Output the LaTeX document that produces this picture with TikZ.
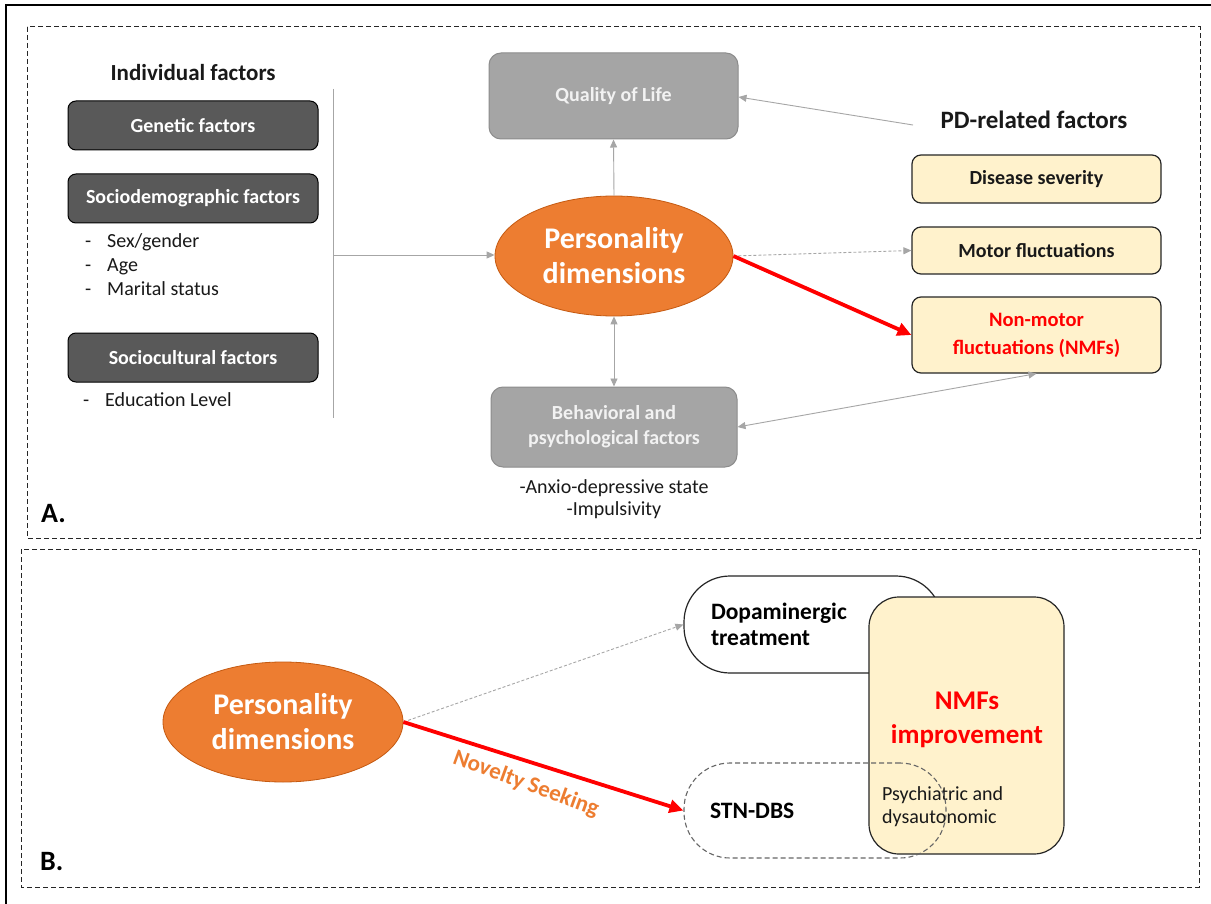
\documentclass[tikz,border=0pt]{standalone}
\usepackage{fontspec}
\setmainfont{Carlito}
\usetikzlibrary{shapes.geometric,arrows.meta}
\definecolor{darkbox}{HTML}{595959}
\definecolor{graybox}{HTML}{A5A5A5}
\definecolor{grayedge}{HTML}{8C8C8C}
\definecolor{lighttext}{HTML}{F2F2F2}
\definecolor{orfill}{HTML}{ED7D31}
\definecolor{oredge}{HTML}{C55A11}
\definecolor{yelfill}{HTML}{FFF2CC}
\definecolor{arrgray}{HTML}{A6A6A6}
\definecolor{redc}{HTML}{FF0000}
\begin{document}
\begin{tikzpicture}[x=1pt,y=-1pt,
  darkfac/.style={draw=black,line width=1pt,fill=darkbox,rounded corners=8pt,minimum width=250pt,minimum height=49pt,text=white,font=\fontsize{20pt}{24pt}\selectfont\bfseries,inner sep=0pt},
  grayfac/.style={draw=grayedge,line width=1pt,fill=graybox,rounded corners=12pt,text=lighttext,font=\fontsize{20pt}{25pt}\selectfont\bfseries,align=center,inner sep=0pt},
  pdfac/.style={draw=black!85,line width=1.2pt,fill=yelfill,rounded corners=9pt,minimum width=249pt,text=black!90,font=\fontsize{20pt}{24pt}\selectfont\bfseries,align=center,inner sep=0pt},
  pers/.style={ellipse,draw=oredge,line width=0.8pt,fill=orfill,text=white,font=\fontsize{30pt}{35pt}\selectfont\bfseries,align=center,inner sep=0pt},
  plain/.style={font=\fontsize{20pt}{24pt}\selectfont,text=black!90,inner sep=0pt},
  garrow/.style={draw=arrgray,line width=0.9pt,-{Triangle[width=7pt,length=8pt]}},
  gdarrow/.style={draw=arrgray,line width=0.9pt,{Triangle[width=7pt,length=8pt]}-{Triangle[width=7pt,length=8pt]}},
  rarrow/.style={draw=redc,line width=3.8pt,-{Triangle[width=13pt,length=14pt]}},
  panel/.style={draw=black!85,line width=1pt,dash pattern=on 5pt off 3pt},
  lab/.style={font=\fontsize{28pt}{30pt}\selectfont\bfseries,inner sep=0pt,anchor=west}
]
\useasboundingbox (0,0) rectangle (1211,904);
\fill[white] (0,0) rectangle (1211,904);
\draw[black,line width=1.6pt] (6,904) -- (6,5) -- (1211,5);

% Panels
\draw[panel] (27,27) rectangle (1200,538);
\draw[panel] (21,549) rectangle (1199,887);
\node[lab] (labA) at (41,514) {A.};
\node[lab] (labB) at (40,862) {B.};

% Individual factors
\node[font=\fontsize{23pt}{26pt}\selectfont\bfseries,text=black!90,inner sep=0pt] (indh) at (193,73) {Individual factors};
\node[darkfac] (gen) at (193,125.5) {Genetic factors};
\node[darkfac] (soc) at (193,198.5) {Sociodemographic factors};
\node[plain,anchor=base west] (sex) at (85,247.5) {\makebox[22pt][l]{-}Sex/gender};
\node[plain,anchor=base west] (age) at (85,271.5) {\makebox[22pt][l]{-}Age};
\node[plain,anchor=base west] (mar) at (85,296) {\makebox[22pt][l]{-}Marital status};
\node[darkfac] (cul) at (193,357.5) {Sociocultural factors};
\node[plain,anchor=base west] (edu) at (83,406.5) {\makebox[22pt][l]{-}Education Level};

\coordinate (vt) at (333,89);
\coordinate (vb) at (333,418);
\coordinate (vm) at (333,255);
\draw[arrgray,line width=0.9pt] (vt) -- (vb);

% Center
\node[pers,minimum width=238pt,minimum height=120pt] (pers) at (614,256) {Personality\\dimensions};
\node[grayfac,minimum width=249pt,minimum height=86pt] (qol) at (613.5,96) {Quality of Life};
\node[grayfac,minimum width=246pt,minimum height=80pt] (beh) at (614,427) {Behavioral and\\psychological factors};
\node[plain,align=center,font=\fontsize{20pt}{22pt}\selectfont] (behlist) at (614,499) {-Anxio-depressive state\\-Impulsivity};

\draw[garrow] (vm) -- (pers.west |- vm);
\draw[garrow] (pers.north) -- (qol.south);
\draw[gdarrow] (pers.south) -- (beh.north);

% PD-related factors
\node[font=\fontsize{25pt}{28pt}\selectfont\bfseries,text=black!90,inner sep=0pt] (pdh) at (1034,120) {PD-related factors};
\coordinate (pdstart) at (913,125);
\node[pdfac,minimum height=48pt] (dis) at (1036.5,179) {Disease severity};
\node[pdfac,minimum height=47pt] (mot) at (1036.5,250.5) {Motor fluctuations};
\node[pdfac,minimum height=76pt,text=redc,font=\fontsize{20.5pt}{28pt}\selectfont\bfseries] (nmf) at (1036.5,335) {Non-motor\\fluctuations (NMFs)};

\draw[garrow] (pdstart) -- (qol.east |- 0,97);
\draw[garrow,dash pattern=on 3pt off 2pt] (pers.east) -- (mot.west);
\draw[rarrow] (pers.east) -- (nmf.west);
\draw[gdarrow] (beh.east) -- (nmf.south);

% Panel B
\node[pers,minimum width=240pt,minimum height=120pt] (pers2) at (283,722) {Personality\\dimensions};

\node[draw=black!85,line width=1.2pt,fill=white,rounded corners=46pt,minimum width=258pt,minimum height=97pt,text width=204pt,align=left,inner sep=0pt,font=\fontsize{23.5pt}{26pt}\selectfont\bfseries] (dop) at (813,624.5) {Dopaminergic\\treatment};
\node[fill=white,rounded corners=46pt,minimum width=262pt,minimum height=95pt,inner sep=0pt] (stnbg) at (815,810.5) {};
\node[draw=black!85,line width=1.2pt,fill=yelfill,rounded corners=30pt,minimum width=195pt,minimum height=257pt,inner sep=0pt] (nmfi) at (966.5,725.5) {};
\node[text=redc,font=\fontsize{27pt}{34pt}\selectfont\bfseries,align=center,inner sep=0pt] (nmfit) at (967,720) {NMFs\\improvement};
\node[font=\fontsize{20pt}{23pt}\selectfont,text=black!90,align=left,anchor=west,inner sep=0pt] (psy) at (882,806.5) {Psychiatric and\\dysautonomic};
\node[draw=black!60,line width=1.1pt,dash pattern=on 5pt off 3pt,rounded corners=46pt,minimum width=262pt,minimum height=95pt,text width=210pt,align=left,inner sep=0pt,font=\fontsize{23.5pt}{26pt}\selectfont\bfseries] (stn) at (815,810.5) {STN-DBS};

\draw[garrow,dash pattern=on 3pt off 2pt] (pers2.east) -- (dop.west);
\draw[rarrow] (pers2.east) -- (stn.west);
\node[text=orfill,font=\fontsize{23pt}{26pt}\selectfont\bfseries,rotate=-20,inner sep=0pt] (nov) at (526,784) {Novelty Seeking};
\end{tikzpicture}
\end{document}
